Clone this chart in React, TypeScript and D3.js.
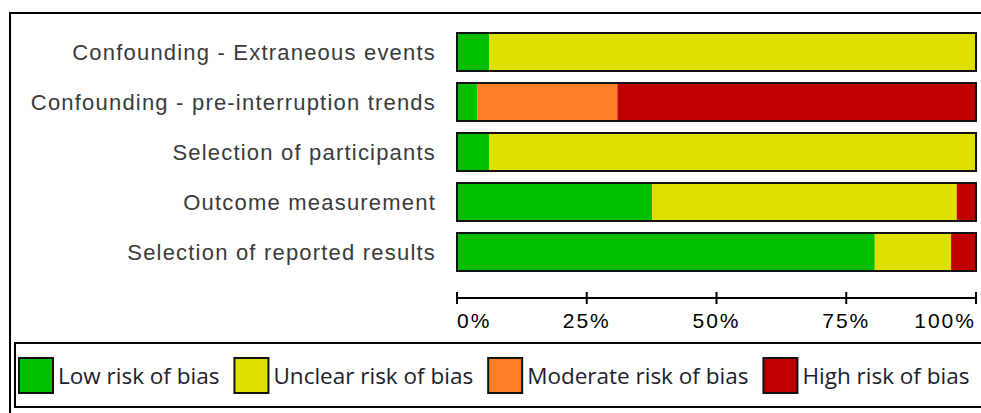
import React, { useMemo } from 'react';
import * as d3 from 'd3';

// risk-of-bias domains, top to bottom
const domains = [
  'Confounding - Extraneous events',
  'Confounding - pre-interruption trends',
  'Selection of participants',
  'Outcome measurement',
  'Selection of reported results',
];

// percent of studies per judgement, same order as domains
const lowRisk = [6.2, 3.9, 6.2, 37.6, 80.5];
const unclearRisk = [93.8, 0, 93.8, 58.7, 14.7];
const moderateRisk = [0, 27.0, 0, 0, 0];
const highRisk = [0, 69.1, 0, 3.7, 4.8];

const judgements = ['Low risk of bias', 'Unclear risk of bias', 'Moderate risk of bias', 'High risk of bias'];
const judgementColors = ['#00bf00', '#e0e000', '#ff8024', '#c00000'];
const tickValues = [0, 25, 50, 75, 100];

const W = 981;
const H = 413;

function measure(text: string, font: string) {
  const c = document.createElement('canvas').getContext('2d');
  if (!c) return text.length * 10;
  c.font = font;
  return c.measureText(text).width;
}

export default function App() {
  const series = [lowRisk, unclearRisk, moderateRisk, highRisk];

  const x = d3.scaleLinear().domain([0, 100]).range([457, 976]);
  const y = d3.scaleBand<string>().domain(domains).range([27, 277]).paddingInner(0.24).paddingOuter(0.12);

  const rows = useMemo(() => {
    return domains.map((name, i) => {
      let acc = 0;
      const segs = series.map((s, k) => {
        const start = acc;
        acc += s[i];
        return { k, start, end: acc };
      }).filter(d => d.end > d.start);
      return { name, segs };
    });
  }, []);

  const legendFont = '22.5px "Open Sans"';
  const legendItems = useMemo(() => {
    let cx = 19;
    return judgements.map((label, k) => {
      const item = { label, k, x: cx };
      cx += 34 + 5 + measure(label, legendFont) + 15;
      return item;
    });
  }, []);

  const axisY = 298;

  return (
    <svg width={W} height={H} style={{ position: 'absolute', left: 0, top: 0, background: '#fff' }}>
      {/* outer frame */}
      <rect x={10} y={13} width={W} height={H} fill="none" stroke="#000" strokeWidth={2} />

      {/* category labels */}
      {domains.map(d => (
        <text
          key={d}
          x={436}
          y={(y(d) ?? 0) + y.bandwidth() / 2}
          dy="0.36em"
          textAnchor="end"
          fontFamily="'Liberation Sans', Arial, sans-serif"
          fontSize={22}
          letterSpacing={1.2}
          fill="#3a3a3a"
        >
          {d}
        </text>
      ))}

      {/* stacked bars */}
      {rows.map(r => (
        <g key={r.name}>
          {r.segs.map(s => (
            <rect
              key={s.k}
              x={x(s.start)}
              y={y(r.name)}
              width={x(s.end) - x(s.start)}
              height={y.bandwidth()}
              fill={judgementColors[s.k]}
            />
          ))}
          <rect
            x={x(0)}
            y={y(r.name)}
            width={x(100) - x(0)}
            height={y.bandwidth()}
            fill="none"
            stroke="#111"
            strokeWidth={2}
          />
        </g>
      ))}

      {/* x axis */}
      <line x1={x(0)} x2={x(100)} y1={axisY} y2={axisY} stroke="#000" strokeWidth={2} />
      {tickValues.map((t, i) => (
        <g key={t}>
          <line x1={x(t)} x2={x(t)} y1={axisY - 6} y2={axisY + 6} stroke="#000" strokeWidth={2} />
          <text
            x={x(t)}
            y={328}
            textAnchor={i === 0 ? 'start' : i === tickValues.length - 1 ? 'end' : 'middle'}
            fontFamily="'Liberation Sans', Arial, sans-serif"
            fontSize={21}
            letterSpacing={2}
            fill="#000"
          >
            {t}%
          </text>
        </g>
      ))}

      {/* legend */}
      <rect x={15} y={343} width={W} height={64} fill="none" stroke="#000" strokeWidth={2} />
      {legendItems.map(it => (
        <g key={it.label}>
          <rect x={it.x} y={358} width={34} height={35} fill={judgementColors[it.k]} stroke="#111" strokeWidth={2} />
          <text
            x={it.x + 39}
            y={375.5}
            dy="0.36em"
            fontFamily="'Open Sans', sans-serif"
            fontSize={22.5}
            fill="#1c1c2c"
          >
            {it.label}
          </text>
        </g>
      ))}
    </svg>
  );
}
